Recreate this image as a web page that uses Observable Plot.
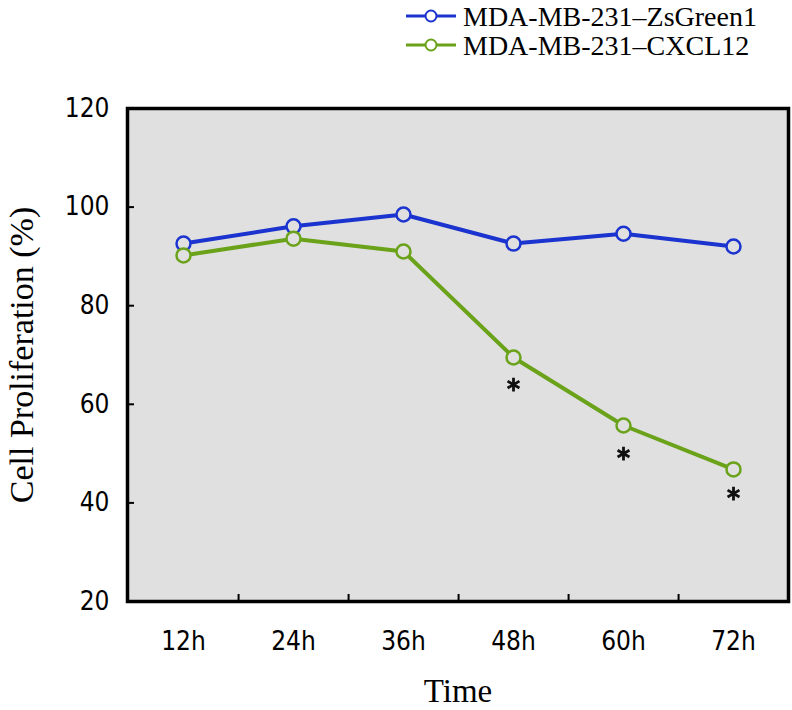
<!DOCTYPE html>
<html>
<head>
<meta charset="utf-8">
<script src="https://cdn.jsdelivr.net/npm/d3@7"></script>
<script src="https://cdn.jsdelivr.net/npm/@observablehq/plot@0.6"></script>
<style>
  body { margin: 0; background: #ffffff; }
  #legend { position: relative; width: 792px; height: 62px; font-family: "Liberation Serif", "Times New Roman", serif; font-size: 28px; line-height: 27px; color: #000; }
  .item { position: absolute; left: 405px; height: 27px; display: flex; align-items: center; white-space: nowrap; }
  .item svg { margin-right: 6px; }
  #chart { width: 792px; }
</style>
</head>
<body>
<div id="legend"></div>
<div id="chart"></div>
<script>
// ---- data ----
const times = ["12h", "24h", "36h", "48h", "60h", "72h"];
const seriesNames = ["MDA-MB-231\u2013ZsGreen1", "MDA-MB-231\u2013CXCL12"];
const seriesColors = ["#1c34cf", "#6aa21a"];
const zsGreen1 = [92.6, 96.1, 98.5, 92.6, 94.6, 92.0];
const cxcl12 = [90.2, 93.6, 91.0, 69.5, 55.7, 46.8];
const sigTimes = ["48h", "60h", "72h"];
const sigValues = [64.0, 50.0, 41.9];
const yTicks = [20, 40, 60, 80, 100, 120];
const yInnerTicks = [40, 60, 80, 100];
const yTitle = "Cell Proliferation (%)";
const xTitle = "Time";

// ---- layout ----
const W = 792, H = 648;
const mL = 127, mR = 4, mT = 46, mB = 109;
const plotW = W - mL - mR, plotH = H - mT - mB;
const step = plotW / times.length;
const bg = "#e0e0e0";
const sans = "'DejaVu Sans Condensed', 'DejaVu Sans', sans-serif";
const serif = "'Liberation Serif', 'Times New Roman', serif";

const rows = [];
times.forEach((t, i) => {
  rows.push({time: t, value: zsGreen1[i], series: seriesNames[0]});
  rows.push({time: t, value: cxcl12[i], series: seriesNames[1]});
});
const stars = sigTimes.map((t, i) => ({time: t, value: sigValues[i]}));

// ---- legend ----
const legend = document.getElementById("legend");
const rowCenters = [16, 45];
seriesNames.forEach((name, i) => {
  const div = document.createElement("div");
  div.className = "item";
  div.style.top = (rowCenters[i] - 13.5) + "px";
  const c = seriesColors[i];
  div.innerHTML = `<svg width="52" height="16" viewBox="0 0 52 16">
      <line x1="1" y1="8" x2="51" y2="8" stroke="${c}" stroke-width="3"/>
      <circle cx="26" cy="8" r="5.5" fill="#ffffff" stroke="${c}" stroke-width="2"/>
    </svg><span>${name}</span>`;
  legend.appendChild(div);
});

// ---- chart ----
const chart = Plot.plot({
  width: W,
  height: H,
  marginLeft: mL,
  marginRight: mR,
  marginTop: mT,
  marginBottom: mB,
  style: {fontFamily: sans, fontSize: "26px", color: "#000", background: "transparent"},
  x: {type: "point", domain: times, padding: 0.5},
  y: {domain: [20, 120]},
  color: {domain: seriesNames, range: seriesColors},
  marks: [
    Plot.frame({fill: bg, stroke: "none"}),
    Plot.tickY(yInnerTicks, {y: d => d, stroke: "#000", strokeWidth: 2, insetRight: plotW - 7}),
    Plot.tickX(times.slice(0, -1), {x: d => d, dx: step / 2, stroke: "#000", strokeWidth: 2, insetTop: plotH - 7}),
    Plot.line(rows, {x: "time", y: "value", z: "series", stroke: "series", strokeWidth: 4, curve: "linear"}),
    Plot.dot(rows, {x: "time", y: "value", stroke: "series", fill: bg, r: 7, strokeWidth: 2.5}),
    Plot.dot(stars, {x: "time", y: "value", symbol: "asterisk", r: 6.5, stroke: "#111", strokeWidth: 2.8}),
    Plot.frame({stroke: "#000", strokeWidth: 3.5}),
    Plot.axisY({ticks: yTicks, tickSize: 0, tickPadding: 18, label: null, fontSize: 26, fontFamily: sans}),
    Plot.axisX({tickSize: 0, tickPadding: 30, label: null, fontSize: 26, fontFamily: sans}),
    Plot.text([yTitle], {frameAnchor: "left", textAnchor: "middle", text: d => d, rotate: -90, dx: -105, fontSize: 34, fontFamily: serif, fill: "#000"}),
    Plot.text([xTitle], {frameAnchor: "bottom", textAnchor: "middle", text: d => d, dy: 100, lineAnchor: "bottom", fontSize: 33, fontFamily: serif, fill: "#000"})
  ]
});
document.getElementById("chart").appendChild(chart);
</script>
</body>
</html>
